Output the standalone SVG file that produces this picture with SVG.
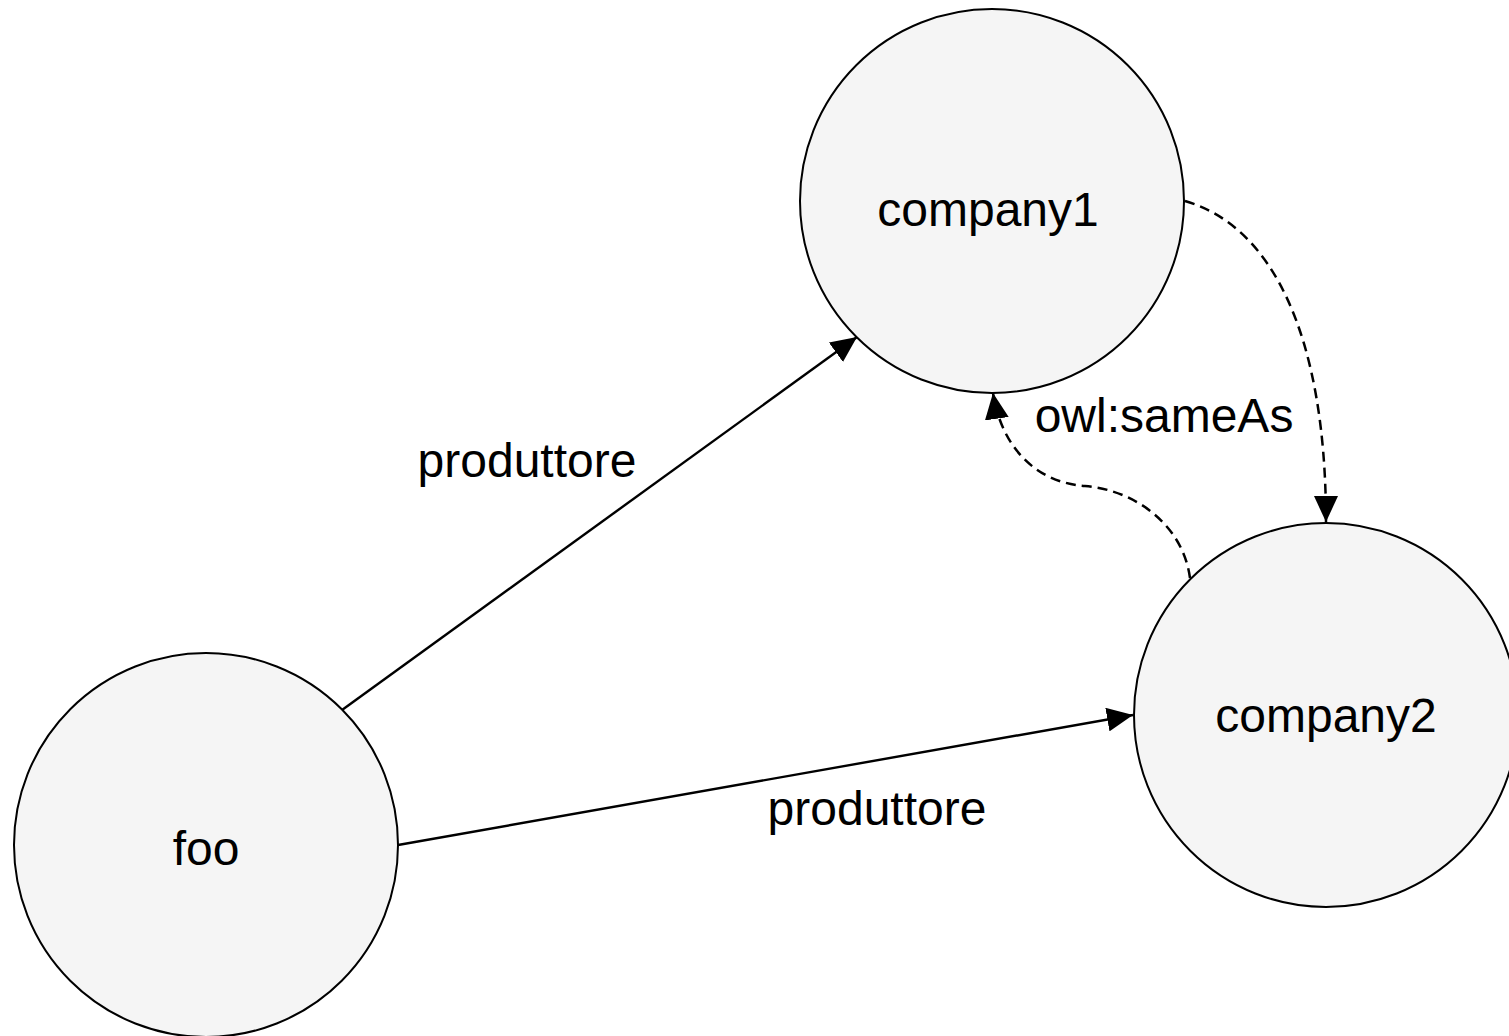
<svg xmlns="http://www.w3.org/2000/svg" width="1509" height="1036" viewBox="0 0 1509 1036">
  <style>
    .node { fill: #f5f5f5; stroke: #000; stroke-width: 2; }
    .label { font-family: "Liberation Sans", Arial, sans-serif; font-size: 48px; fill: #000; text-anchor: middle; }
    .edge { fill: none; stroke: #000; stroke-width: 2.4; }
    .dashed { stroke-dasharray: 10 6; stroke-width: 2.5; }
  </style>
  <defs>
    <marker id="arr" markerUnits="userSpaceOnUse" markerWidth="26" markerHeight="24" refX="26" refY="12" orient="auto">
      <path d="M0,0 L26,12 L0,24 z" fill="#000"/>
    </marker>
  </defs>
  <rect width="1509" height="1036" fill="#fff"/>

  <g id="node-company1">
    <circle class="node" cx="992" cy="201" r="192"/>
    <text class="label" x="988" y="226">company1</text>
  </g>
  <g id="node-company2">
    <circle class="node" cx="1326" cy="715" r="192"/>
    <text class="label" x="1326" y="732">company2</text>
  </g>
  <g id="node-foo">
    <circle class="node" cx="206" cy="845" r="192"/>
    <text class="label" x="206" y="865">foo</text>
  </g>

  <g id="connectors">
    <path class="edge" d="M342,710 L857,337" marker-end="url(#arr)"/>
    <path class="edge" d="M398,845 L1133,715" marker-end="url(#arr)"/>
    <path class="edge dashed" d="M1185,201 C1272,226 1326,335 1326,522" marker-end="url(#arr)"/>
    <path class="edge dashed" d="M1190,578 C1183,525 1135,490 1085,486 C1030,482 1000,440 993,393" marker-end="url(#arr)"/>
    <text class="label" x="527" y="477">produttore</text>
    <text class="label" x="877" y="825">produttore</text>
    <text class="label" x="1164" y="432">owl:sameAs</text>
  </g>
</svg>
